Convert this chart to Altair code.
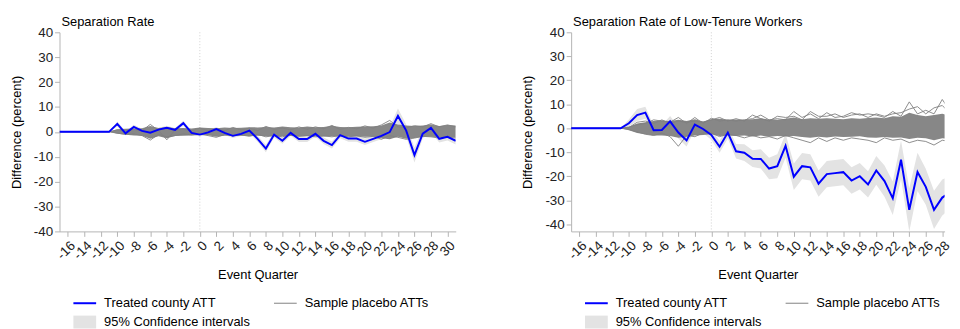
import altair as alt
import pandas as pd

# ---------------- data ----------------
quarters = list(range(-17, 32))
x_ticks = list(range(-16, 31, 2))
y_ticks = list(range(-40, 41, 10))
event_line = [0]

legend_names = ["Treated county ATT", "Sample placebo ATTs", "95% Confidence intervals"]
legend_colors = ["#0000ff", "#808080", "#e3e3e3"]

# Panel 1: Separation Rate
sep_att = [0, 0, 0, 0, 0, 0, 0,
           3.2, -0.6, 2.0, 0.4, -0.3, 0.9, 1.6, 0.8, 3.5, -0.4,
           -1.1, -0.2, 1.1, -0.4, -1.6, -0.8, 0.5, -2.8, -6.7, -1.1,
           -3.6, -0.4, -2.9, -2.9, -0.8, -3.6, -5.3, -1.3, -2.7, -2.7,
           -4.0, -2.8, -1.6, -0.1, 6.4, 0.5, -9.3, -0.7, 1.6, -2.8,
           -2.0, -3.6]
sep_ci_half = [0, 0, 0, 0, 0, 0, 0,
               1.0, 0.8, 0.9, 0.8, 0.8, 0.8, 0.9, 0.8, 1.0, 0.8,
               0.8, 0.8, 0.9, 0.9, 0.9, 0.9, 1.0, 1.2, 1.5, 1.2,
               1.2, 1.2, 1.2, 1.2, 1.2, 1.3, 1.4, 1.3, 1.3, 1.3,
               1.3, 1.3, 1.4, 2.0, 3.0, 2.5, 3.0, 2.0, 1.8, 1.5,
               1.5, 1.5]
sep_placebo_upper = [0, 0, 0, 0, 0, 0, 0,
                     1.0, 1.2, 1.4, 1.5, 2.4, 1.6, 2.0, 1.5, 1.6, 1.4,
                     1.8, 1.6, 1.5, 1.8, 1.6, 1.7, 1.9, 1.8, 2.0, 1.8,
                     2.2, 1.9, 1.8, 2.2, 1.9, 2.0, 2.5, 2.0, 1.9, 2.1,
                     2.2, 2.3, 2.6, 3.8, 3.0, 2.6, 2.4, 2.6, 3.0, 2.4,
                     2.8, 2.6]
sep_placebo_lower = [0, 0, 0, 0, 0, 0, 0,
                     -0.8, -1.2, -1.5, -1.6, -2.8, -1.8, -2.6, -1.7, -1.6, -1.5,
                     -1.3, -1.4, -2.0, -1.6, -1.5, -1.6, -1.7, -1.6, -1.8, -1.7,
                     -1.8, -1.7, -1.8, -1.7, -1.8, -1.9, -1.8, -1.8, -1.9, -1.8,
                     -2.0, -1.9, -2.6, -3.0, -2.0, -2.8, -2.5, -2.0, -2.0, -2.2,
                     -2.0, -2.3]
sep_placebo_a = [0, 0, 0, 0, 0, 0, 0,
                 0.8, 0.5, 1.0, 0.5, 3.0, 0.5, -3.2, 0.8, 1.0, 0.5,
                 1.5, 0.5, 1.2, 0.5, 1.8, 0.8, 1.5, 0.5, 2.2, 1.0,
                 1.5, 0.8, 2.0, 1.0, 2.0, 1.2, 2.6, 1.0, 1.8, 1.2,
                 2.4, 1.5, 2.8, 4.6, 2.0, 1.5, 2.5, 2.0, 3.3, 2.0,
                 2.8, 2.0]
sep_placebo_b = [0, 0, 0, 0, 0, 0, 0,
                 -0.5, -1.0, -0.8, -1.5, -3.3, -1.0, -2.0, -1.5, -0.8, -1.2,
                 -0.8, -1.5, -2.2, -1.0, -1.6, -1.2, -1.8, -1.0, -2.0, -1.5,
                 -2.0, -1.2, -1.8, -1.5, -2.0, -1.6, -2.0, -1.5, -2.0, -1.6,
                 -2.2, -1.8, -3.0, -1.5, -2.2, -3.0, -2.5, -1.8, -2.0, -2.5,
                 -2.0, -2.5]

# Panel 2: Separation Rate of Low-Tenure Workers
low_att = [0, 0, 0, 0, 0, 0, 0,
           2.1, 5.5, 6.5, -0.8, -0.7, 2.9, -1.8, -5.1, 1.5, -0.3,
           -2.8, -7.7, -1.8, -9.6, -10.2, -12.7, -12.8, -16.8, -15.8, -7.3,
           -20.2, -15.8, -16.3, -23.1, -19.1, -18.7, -18.3, -21.8, -20.0, -23.4,
           -17.6, -22.0, -29.2, -13.1, -34.0, -18.2, -24.4, -34.0, -28.9, -26.6,
           -27.3, -27.5]
low_ci_half = [0, 0, 0, 0, 0, 0, 0,
               1.5, 2.5, 2.5, 2.0, 2.0, 2.2, 2.5, 2.5, 2.0, 1.8,
               2.0, 2.5, 2.5, 3.0, 3.5, 3.5, 4.0, 4.5, 5.0, 5.0,
               5.5, 5.5, 5.5, 5.5, 5.5, 5.5, 5.5, 5.5, 5.5, 5.5,
               6.0, 6.5, 7.0, 8.0, 9.0, 8.0, 7.5, 8.0, 7.5, 7.0,
               7.0, 7.0]
low_placebo_upper = [0, 0, 0, 0, 0, 0, 0,
                     0.5, 2.0, 2.5, 3.0, 3.2, 3.0, 3.5, 3.0, 3.8, 2.8,
                     3.8, 4.0, 3.5, 3.6, 3.5, 3.8, 4.2, 3.6, 3.5, 4.0,
                     4.5, 3.8, 4.2, 4.0, 4.2, 4.0, 3.8, 4.2, 4.0, 4.3,
                     4.5, 4.2, 5.0, 4.8, 6.5, 5.5, 5.0, 5.5, 6.0, 5.2,
                     5.5, 5.0]
low_placebo_lower = [0, 0, 0, 0, 0, 0, 0,
                     -0.8, -2.0, -2.5, -3.0, -3.0, -3.2, -4.0, -3.5, -3.0, -2.8,
                     -2.5, -3.2, -3.0, -3.2, -3.0, -3.4, -3.0, -3.5, -3.2, -3.4,
                     -3.2, -3.6, -4.0, -3.5, -3.8, -3.4, -3.6, -3.5, -3.3, -3.8,
                     -4.0, -3.6, -4.0, -3.8, -4.5, -4.0, -4.2, -5.0, -4.2, -4.5,
                     -4.8, -5.0]
low_placebo_a = [0, 0, 0, 0, 0, 0, 0,
                 0.5, 1.5, 2.0, 3.5, 3.0, 2.5, 4.5, 2.0, 4.5, 2.0,
                 4.2, 3.0, 3.5, 3.0, 3.5, 4.0, 5.5, 3.5, 4.0, 3.5,
                 7.0, 4.5, 6.0, 4.0, 6.5, 4.5, 5.0, 6.5, 5.5, 6.0,
                 5.5, 4.5, 7.0, 5.0, 11.0, 6.0, 7.5, 6.0, 12.0, 7.0,
                 6.5, 8.0]
low_placebo_b = [0, 0, 0, 0, 0, 0, 0,
                 -0.5, -1.5, -2.5, -3.0, -2.0, -3.5, -7.5, -3.0, -3.5, -2.0,
                 -2.0, -3.5, -2.5, -3.0, -4.0, -3.0, -4.0, -3.5, -4.5, -3.0,
                 -4.0, -5.0, -6.0, -4.0, -5.5, -4.0, -5.0, -4.0, -4.5, -5.0,
                 -6.0, -4.0, -5.0, -4.5, -6.0, -5.0, -5.5, -7.0, -5.0, -5.5,
                 -6.5, -7.0]
low_placebo_c = [0, 0, 0, 0, 0, 0, 0,
                 0.3, 2.5, 3.0, 2.0, 3.5, 2.0, 3.0, 2.5, 3.0, 2.5,
                 3.5, 4.5, 3.0, 4.0, 3.0, 5.5, 4.0, 3.0, 5.0, 4.5,
                 5.0, 3.5, 7.0, 5.0, 5.0, 6.0, 4.5, 5.5, 6.0, 4.5,
                 6.0, 5.0, 6.0, 6.5, 8.0, 9.0, 6.0, 8.5, 9.5, 6.0,
                 8.0, 7.0]

FONT = "Liberation Sans"


def panel(title, att, ci_half, pl_up, pl_lo, pl_lines, y_domain, x_domain, width):
    df = pd.DataFrame({
        "q": quarters,
        "att": att,
        "lo": [a - h for a, h in zip(att, ci_half)],
        "hi": [a + h for a, h in zip(att, ci_half)],
        "pl_lo": pl_lo,
        "pl_hi": pl_up,
    })
    rows = []
    for i, series in enumerate(pl_lines):
        for q, v in zip(quarters, series):
            rows.append({"q": q, "val": v, "id": i})
    lines_df = pd.DataFrame(rows)

    x = alt.X("q:Q",
              scale=alt.Scale(domain=x_domain, nice=False, zero=False),
              axis=alt.Axis(values=x_ticks, labelAngle=-45, title="Event Quarter",
                            titlePadding=7, labelPadding=2, labelOverlap=False,
                            labelExpr="'' + datum.value"))
    yscale = alt.Scale(domain=y_domain, nice=False, zero=False)
    yaxis = alt.Axis(values=y_ticks, title="Difference (percent)", titlePadding=10,
                     labelPadding=2, labelExpr="'' + datum.value")

    rule = alt.Chart(pd.DataFrame({"q": event_line})).mark_rule(
        color="#d0d0d0", strokeDash=[1, 2], strokeWidth=1
    ).encode(x=x)
    ci = alt.Chart(df).mark_area(color="#e3e3e3", clip=True).encode(
        x=x, y=alt.Y("lo:Q", scale=yscale, axis=yaxis), y2="hi:Q")
    band = alt.Chart(df).mark_area(color="#878787", clip=True).encode(
        x=x, y=alt.Y("pl_lo:Q", scale=yscale, axis=yaxis), y2="pl_hi:Q")
    plines = alt.Chart(lines_df).mark_line(color="#808080", strokeWidth=0.9, clip=True).encode(
        x=x, y=alt.Y("val:Q", scale=yscale, axis=yaxis), detail="id:N")
    line = alt.Chart(df).mark_line(color="#0000ff", strokeWidth=2, clip=True).encode(
        x=x, y=alt.Y("att:Q", scale=yscale, axis=yaxis))

    leg = alt.Legend(title=None, orient="none", legendX=18.5, legendY=266.5, columns=2,
                     direction="horizontal", columnPadding=23.5, rowPadding=5,
                     labelOffset=12.5, symbolSize=196,
                     symbolOpacity=1, symbolStrokeWidth=0, labelFontSize=13,
                     labelFont=FONT, labelLimit=400, labelColor="#000000", padding=0)
    shapes = ["M-1.64,-0.143H1.64V0.143H-1.64Z",
              "M-1.64,-0.071H1.64V0.071H-1.64Z",
              "M-1.64,-0.93H1.64V0.93H-1.64Z"]
    keys = alt.Chart(pd.DataFrame({"series": legend_names})).mark_point(
        filled=True, opacity=0).encode(
        x=alt.value(0), y=alt.value(0),
        color=alt.Color("series:N", scale=alt.Scale(domain=legend_names, range=legend_colors),
                        legend=leg),
        shape=alt.Shape("series:N", scale=alt.Scale(domain=legend_names, range=shapes),
                        legend=leg),
    )

    return alt.layer(rule, ci, band, plines, line, keys).properties(
        width=width, height=201,
        title=alt.TitleParams(title, anchor="start", frame="group", fontSize=13, font=FONT,
                              fontWeight="normal", offset=-4, dx=2, color="#000000"),
    )


left = panel("Separation Rate", sep_att, sep_ci_half, sep_placebo_upper, sep_placebo_lower,
             [sep_placebo_a, sep_placebo_b], [-40, 40], [-17, 31], 400)
right = panel("Separation Rate of Low-Tenure Workers", low_att, low_ci_half,
              low_placebo_upper, low_placebo_lower,
              [low_placebo_a, low_placebo_b, low_placebo_c], [-43, 40], [-17, 28.28], 377)

chart = alt.hconcat(left, right, spacing=64.5).resolve_scale(
    x="independent", y="independent", color="independent", shape="independent"
).resolve_legend(color="independent", shape="independent").properties(
    padding={"left": 2, "top": 7, "right": 0, "bottom": 0}
).configure_view(stroke=None).configure_axis(
    grid=False, domainColor="#b4b4b4", tickColor="#b4b4b4", tickSize=5,
    labelFont=FONT, labelFontSize=13.5, labelColor="#222222",
    titleFont=FONT, titleFontSize=13, titleFontWeight="normal", titleColor="#000000",
)

chart.save("out.html", embed_options={"renderer": "svg", "actions": False})
